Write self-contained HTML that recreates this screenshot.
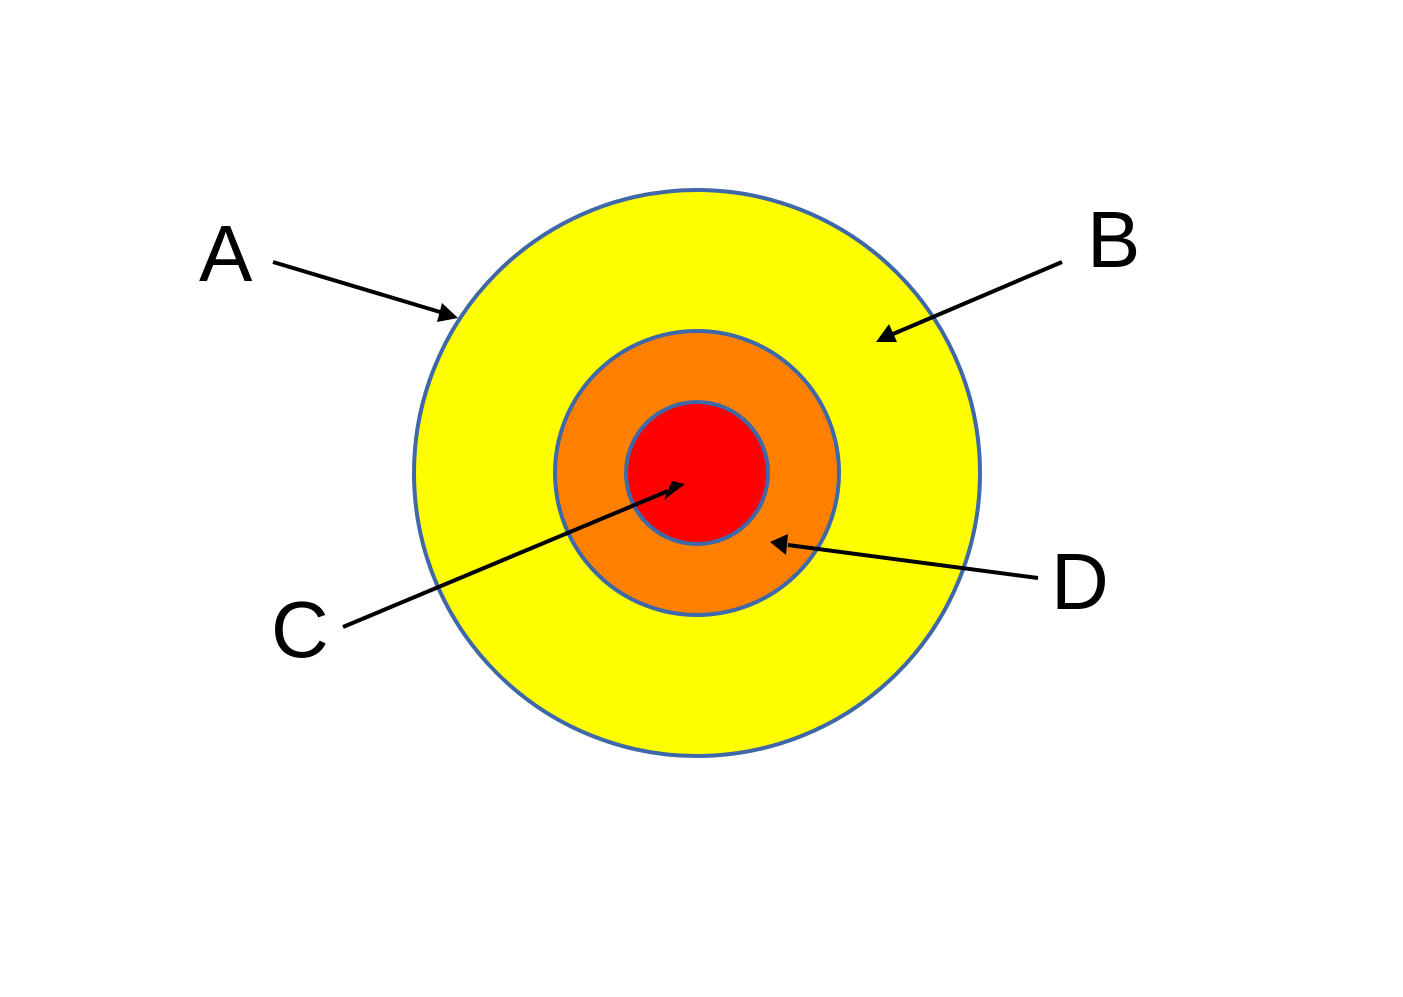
<!DOCTYPE html>
<html><head><style>html,body{margin:0;padding:0;background:#fff;}</style></head>
<body>
<svg width="1403" height="992" viewBox="0 0 1403 992" xmlns="http://www.w3.org/2000/svg">
<circle cx="697" cy="473" r="283" fill="#ffff00" stroke="#3e68a8" stroke-width="4"/>
<circle cx="697" cy="473" r="142" fill="#ff8000" stroke="#3e68a8" stroke-width="4"/>
<circle cx="697" cy="473" r="71" fill="#ff0000" stroke="#3e68a8" stroke-width="4"/>
<g stroke="#000" stroke-width="4" fill="none">
<line x1="273" y1="262" x2="440" y2="312"/>
<line x1="1062" y1="262" x2="893" y2="334"/>
<line x1="343" y1="627" x2="668" y2="491"/>
<line x1="1038" y1="578" x2="788" y2="545"/>
</g>
<g fill="#000">
<polygon points="458,318 437,322 442,303"/>
<polygon points="876,342 889,324 897,342"/>
<polygon points="685,484 664,500 672,481"/>
<polygon points="770,542 788,534 786,555"/>
</g>
<g font-family="Liberation Sans, sans-serif" font-size="80" fill="#000">
<text x="199" y="281">A</text>
<text x="1087" y="267">B</text>
<text x="271" y="657">C</text>
<text x="1051" y="609">D</text>
</g>
</svg>
</body></html>
